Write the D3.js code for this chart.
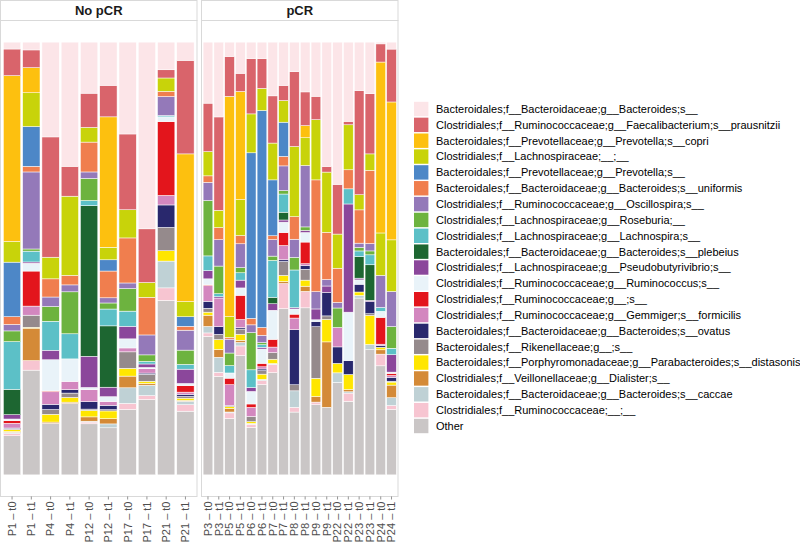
<!DOCTYPE html>
<html>
<head>
<meta charset="utf-8">
<script src="https://cdn.jsdelivr.net/npm/d3@7"></script>
<style>
  body { margin: 0; background: #fff; }
  svg { display: block; font-family: "Liberation Sans", Arial, Helvetica, sans-serif; }
</style>
</head>
<body>
<div id="chart"></div>
<script>

var taxa = [
  "Bacteroidales;f__Bacteroidaceae;g__Bacteroides;s__",
  "Clostridiales;f__Ruminococcaceae;g__Faecalibacterium;s__prausnitzii",
  "Bacteroidales;f__Prevotellaceae;g__Prevotella;s__copri",
  "Clostridiales;f__Lachnospiraceae;__;__",
  "Bacteroidales;f__Prevotellaceae;g__Prevotella;s__",
  "Bacteroidales;f__Bacteroidaceae;g__Bacteroides;s__uniformis",
  "Clostridiales;f__Ruminococcaceae;g__Oscillospira;s__",
  "Clostridiales;f__Lachnospiraceae;g__Roseburia;__",
  "Clostridiales;f__Lachnospiraceae;g__Lachnospira;s__",
  "Bacteroidales;f__Bacteroidaceae;g__Bacteroides;s__plebeius",
  "Clostridiales;f__Lachnospiraceae;g__Pseudobutyrivibrio;s__",
  "Clostridiales;f__Ruminococcaceae;g__Ruminococcus;s__",
  "Clostridiales;f__Ruminococcaceae;g__;s__",
  "Clostridiales;f__Ruminococcaceae;g__Gemmiger;s__formicilis",
  "Bacteroidales;f__Bacteroidaceae;g__Bacteroides;s__ovatus",
  "Bacteroidales;f__Rikenellaceae;g__;s__",
  "Bacteroidales;f__Porphyromonadaceae;g__Parabacteroides;s__distasonis",
  "Clostridiales;f__Veillonellaceae;g__Dialister;s__",
  "Bacteroidales;f__Bacteroidaceae;g__Bacteroides;s__caccae",
  "Clostridiales;f__Ruminococcaceae;__;__",
  "Other"
]

var taxaColors = [
  "#FCE5E8", "#D9646B", "#FDC00F", "#C8D30A", "#4D87C7", "#F07E4E", "#9479B9",
  "#6DB33F", "#5CC0C7", "#1D6631", "#8B479B", "#E9F3F9", "#E3151C", "#D387BF",
  "#29286D", "#958A8C", "#FFE600", "#D48A37", "#BFD1D5", "#F7C5D1", "#CAC6C6"
]

var noPcrSamples = ["P1 – t0", "P1 – t1", "P4 – t0", "P4 – t1", "P12 – t0", "P12 – t1",
                    "P17 – t0", "P17 – t1", "P21 – t0", "P21 – t1"]

var pcrSamples = ["P3 – t0", "P3 – t1", "P5 – t0", "P5 – t1", "P6 – t0", "P6 – t1",
                  "P7 – t0", "P7 – t1", "P8 – t0", "P8 – t1", "P9 – t0", "P9 – t1",
                  "P22 – t0", "P22 – t1", "P23 – t0", "P23 – t1", "P24 – t0", "P24 – t1"]

// relative abundance (%) per sample, columns in the order of `taxa`
var abundance = [
  [1.6, 6.2, 38.6, 4.8, 12.7, 1.8, 1.5, 2.5, 11.1, 5.9, 1.0, 0.4, 0.6, 1.1, 0.2, 0.2, 0.4, 0.2, 0.3, 0.5, 9.1],
  [1.8, 4.1, 5.8, 7.8, 9.2, 1.3, 17.8, 0.5, 2.5, 0, 0.3, 1.8, 8.1, 2.1, 0, 2.8, 0.2, 7.5, 0, 2.2, 24.2],
  [21.9, 27.8, 0, 5.0, 0, 4.2, 2.2, 3.4, 6.7, 0, 2.2, 7.2, 0.2, 2.9, 1.2, 1.1, 1.8, 0.3, 0, 0, 11.9],
  [28.7, 6.9, 0, 18.3, 0, 2.2, 1.6, 9.7, 5.8, 0, 0, 5.2, 0, 1.9, 0.8, 1.0, 1.1, 0.3, 0, 0, 16.5],
  [11.8, 7.9, 0, 3.4, 0, 6.9, 1.5, 5.1, 1.2, 34.8, 7.2, 0.5, 0, 2.8, 1.7, 0.3, 1.5, 1.0, 0.2, 0.4, 11.8],
  [10.0, 7.3, 30.2, 2.9, 2.6, 6.2, 1.2, 1.4, 3.9, 14.2, 2.2, 1.1, 0, 0.9, 1.0, 0.3, 1.8, 1.2, 0.9, 0, 10.9],
  [21.2, 17.5, 0, 6.5, 0, 10.4, 1.3, 5.2, 3.5, 0, 2.9, 2.1, 0, 0.9, 0, 3.8, 1.8, 2.7, 3.6, 1.4, 15.1],
  [43.1, 12.4, 0, 3.4, 0, 8.7, 4.6, 1.5, 0.6, 0, 0.8, 0.3, 0, 1.0, 0.3, 1.6, 0.5, 0.4, 2.4, 0.9, 17.4],
  [6.4, 1.9, 0, 3.1, 0, 1.2, 4.4, 0, 0.3, 0, 0, 1.1, 17.1, 2.2, 5.2, 5.4, 2.4, 0, 6.2, 2.9, 40.4],
  [4.2, 21.6, 34.1, 3.5, 2.2, 0.9, 4.6, 3.3, 1.1, 0, 3.3, 0.5, 1.5, 0.5, 0.5, 0.4, 0.5, 0.2, 0.8, 1.5, 14.7],

  [14.1, 11.2, 0, 5.6, 0, 1.5, 4.2, 12.8, 3.4, 0, 1.9, 1.4, 0.2, 3.6, 1.6, 0.9, 0.7, 2.6, 1.5, 0.8, 32.0],
  [17.3, 21.6, 0, 4.0, 0, 2.8, 6.1, 6.4, 0.7, 0, 0.3, 0, 0, 6.6, 1.8, 1.2, 2.3, 1.8, 3.5, 0.9, 22.8],
  [3.3, 9.2, 50.8, 4.8, 0, 0.4, 3.2, 2.9, 1.7, 0, 0, 1.2, 1.5, 4.8, 0.2, 0, 0.5, 0.8, 0.2, 1.3, 13.0],
  [7.2, 4.2, 25.0, 8.3, 0, 1.9, 5.5, 1.2, 1.7, 0, 1.8, 1.7, 5.6, 1.9, 0.3, 1.2, 1.4, 0.5, 0.8, 2.2, 27.6],
  [3.8, 12.8, 0, 9.0, 38.3, 1.5, 1.8, 8.6, 4.1, 0, 0.9, 2.9, 0.8, 2.1, 0, 1.2, 0.4, 0, 0.2, 0.7, 11.0],
  [3.8, 6.9, 0, 5.1, 50.2, 1.8, 1.7, 0.5, 0.6, 0, 0.4, 3.3, 0.8, 0.5, 0.4, 0.8, 1.2, 0, 0.3, 0.9, 20.9],
  [12.4, 10.9, 0, 8.5, 12.9, 0.9, 3.8, 1.0, 8.5, 1.5, 1.5, 6.7, 1.8, 1.3, 0, 1.5, 1.0, 0, 0.2, 1.9, 23.6],
  [10.0, 3.5, 0, 5.0, 7.9, 2.2, 5.7, 0.8, 4.2, 1.8, 0.5, 2.4, 3.0, 3.3, 0.4, 3.2, 1.4, 0.5, 0, 5.8, 38.4],
  [6.8, 17.3, 0, 16.2, 0, 5.2, 4.2, 2.9, 8.7, 0, 0.3, 1.2, 0.9, 2.7, 12.7, 1.4, 0, 0, 3.8, 1.1, 14.5],
  [11.5, 7.8, 2.8, 6.4, 0, 0, 14.2, 0.8, 0, 0, 0.5, 2.2, 5.0, 0.4, 0.9, 2.5, 1.4, 1.2, 0, 3.8, 38.6],
  [12.5, 5.4, 0, 13.9, 0, 25.8, 4.0, 0, 0, 0, 2.5, 0.4, 0, 0, 1.2, 11.9, 4.2, 1.3, 0, 0.6, 16.2],
  [28.7, 1.3, 0, 13.9, 0, 10.9, 1.5, 0, 0, 0, 1.5, 0, 0, 0, 5.4, 0.8, 5.2, 15.1, 0, 0, 15.6],
  [32.9, 11.5, 0, 7.9, 0, 7.9, 1.3, 4.5, 0, 0, 0, 0, 0, 4.5, 3.8, 0, 2.2, 0, 2.2, 0, 21.4],
  [18.3, 0.8, 0, 10.4, 0, 4.4, 0, 0, 3.5, 0, 25.0, 11.2, 0, 0, 3.2, 0, 3.5, 0.5, 0.3, 1.9, 17.0],
  [11.2, 24.1, 0, 3.5, 0, 7.7, 1.0, 0.8, 1.3, 5.0, 0.4, 1.0, 0, 0, 1.8, 0, 0.8, 0, 0.6, 0, 40.9],
  [11.9, 13.9, 0, 3.8, 0, 16.9, 1.7, 0.9, 2.3, 8.2, 0.3, 0, 0, 0, 2.8, 0.4, 6.7, 0, 1.2, 0, 28.9],
  [0.4, 4.2, 39.5, 9.8, 0, 0, 7.4, 0, 0.9, 0, 0, 1.4, 6.2, 0.3, 0.4, 0, 0.6, 1.0, 0, 2.7, 25.2],
  [1.6, 12.2, 31.8, 11.9, 0, 0, 8.1, 5.0, 1.5, 0, 4.0, 0.3, 0.5, 0.4, 0.9, 0.2, 0.7, 2.9, 1.8, 0.9, 15.1]
]

var width = 800, height = 543

var svg = d3.select("#chart").append("svg")
    .attr("width", width)
    .attr("height", height)

var stripTop = 0.5, panelTop = 20.5, panelBottom = 496.5

var y = d3.scaleLinear()
    .domain([-0.05, 1.05])
    .range([panelBottom, panelTop])

var color = d3.scaleOrdinal().domain(taxa).range(taxaColors)

// Other at the bottom, first taxon on top
var stack = d3.stack()
    .keys(taxa.slice().reverse())
    .offset(d3.stackOffsetExpand)

var allSamples = noPcrSamples.concat(pcrSamples)
var rows = allSamples.map(function (s, i) {
  var row = {sample: s}
  taxa.forEach(function (t, j) { row[t] = abundance[i][j] })
  return row
})

var facets = [
  {title: "No pCR", samples: noPcrSamples, x0: 0.5, x1: 197},
  {title: "pCR", samples: pcrSamples, x0: 201.5, x1: 398}
]

facets.forEach(function (f) {

  var x = d3.scaleBand()
      .domain(f.samples)
      .range([f.x0, f.x1])
      .paddingInner(0.1)
      .paddingOuter(0.15)

  var g = svg.append("g")

  // strip
  g.append("rect")
      .attr("x", f.x0).attr("y", stripTop)
      .attr("width", f.x1 - f.x0).attr("height", panelTop - stripTop)
      .attr("fill", "#fff")
      .attr("stroke", "#d9d9d9")

  g.append("text")
      .attr("x", (f.x0 + f.x1) / 2)
      .attr("y", (stripTop + panelTop) / 2)
      .attr("dy", "0.36em")
      .attr("text-anchor", "middle")
      .attr("font-size", 13)
      .attr("font-weight", "bold")
      .attr("fill", "#1a1a1a")
      .text(f.title)

  // panel
  g.append("rect")
      .attr("x", f.x0).attr("y", panelTop)
      .attr("width", f.x1 - f.x0).attr("height", panelBottom - panelTop)
      .attr("fill", "#fff")
      .attr("stroke", "#d9d9d9")

  var data = rows.filter(function (r) { return f.samples.indexOf(r.sample) >= 0 })
  var series = stack(data)

  g.append("g")
    .selectAll("g")
    .data(series)
    .join("g")
      .attr("fill", function (d) { return color(d.key) })
    .selectAll("rect")
    .data(function (d) { return d })
    .join("rect")
      .attr("x", function (d) { return x(d.data.sample) })
      .attr("width", x.bandwidth())
      .attr("y", function (d) { return y(d[1]) })
      .attr("height", function (d) { return Math.max(0, y(d[0]) - y(d[1])) })
      .attr("stroke", "#fff")
      .attr("stroke-width", 0.5)

  var axis = g.append("g")
      .attr("transform", "translate(0," + panelBottom + ")")
      .call(d3.axisBottom(x).tickSize(3).tickPadding(2))

  axis.select(".domain").remove()
  axis.selectAll(".tick line").attr("stroke", "#4d4d4d").attr("stroke-width", 0.6)
  axis.selectAll(".tick text")
      .attr("transform", "rotate(-90)")
      .attr("x", -5)
      .attr("y", 0)
      .attr("dy", "0.35em")
      .attr("text-anchor", "end")
      .attr("font-size", 11)
      .attr("font-family", "'Liberation Sans', Arial, Helvetica, sans-serif")
      .attr("fill", "#4d4d4d")
})

// legend
var legend = svg.append("g")
    .attr("transform", "translate(414,0)")

var rowH = 15.85, firstRow = 109

var item = legend.selectAll("g")
    .data(taxa)
    .join("g")
      .attr("transform", function (d, i) { return "translate(0," + (firstRow + i * rowH) + ")" })

item.append("rect")
    .attr("x", 0)
    .attr("y", -7.2)
    .attr("width", 14.4)
    .attr("height", 14.4)
    .attr("fill", function (d) { return color(d) })

item.append("text")
    .attr("x", 22)
    .attr("dy", "0.35em")
    .attr("font-size", 11)
    .attr("fill", "#000")
    .text(function (d) { return d })

</script>
</body>
</html>
